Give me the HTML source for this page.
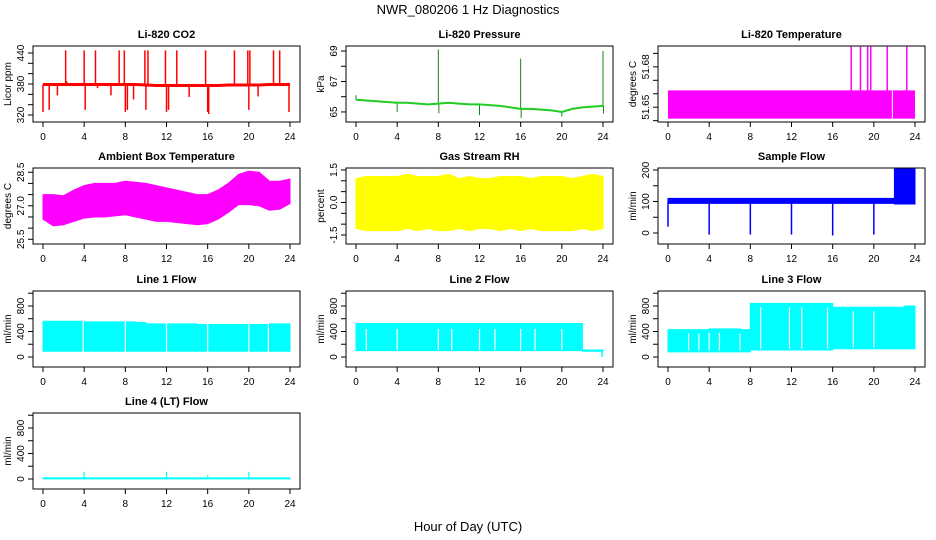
<!DOCTYPE html>
<html><head><meta charset="utf-8"><style>
body{margin:0;background:#fff;}
svg{display:block;font-family:"Liberation Sans",sans-serif;}
</style></head><body>
<svg id="c" width="936" height="540" viewBox="0 0 936 540">
<text x="468" y="14" text-anchor="middle" font-size="13">NWR_080206  1 Hz Diagnostics</text>
<text x="468" y="531" text-anchor="middle" font-size="13">Hour of Day (UTC)</text>
</svg>
<script>
const hours = [0,1,2,3,4,5,6,7,8,9,10,11,12,13,14,15,16,17,18,19,20,21,22,23,24];
const xTicks = [0,4,8,12,16,20,24];
// CO2
const co2Base = [379,379,379,379,379,379,379,379,379,379,378,377,377,377,377,377,377,377,378,378,378,378,379,379,379];
const co2SpikeHours = [0.0,0.6,1.4,2.2,2.3,4.0,4.1,5.1,5.3,6.6,7.4,7.9,8.0,8.2,8.8,9.9,10.0,10.2,11.9,12.0,12.2,13.0,14.2,15.8,16.0,16.1,18.6,19.9,20.0,20.1,20.9,22.4,23.0,23.9];
const co2SpikeVals  = [326,330,358,445,385,445,330,445,372,358,445,445,326,330,350,445,330,445,445,326,330,445,355,445,326,322,445,445,330,445,356,445,445,326];
// Pressure
const presBase = [65.8,65.75,65.7,65.65,65.6,65.6,65.55,65.5,65.55,65.6,65.55,65.5,65.5,65.45,65.4,65.3,65.2,65.2,65.15,65.1,65.0,65.2,65.3,65.35,65.4];
const presSpikeHours = [0.0,4.0,8.0,8.05,12.0,16.0,16.05,20.0,24.0,24.05];
const presSpikeVals  = [66.1,65.0,69.1,64.9,64.8,68.5,64.6,64.7,69.0,64.9];
// Li-820 Temperature
const tempLo = 51.6415, tempHi = 51.6625;
const tempSpikeHours = [17.8,18.7,19.4,19.7,21.3,23.2];
const tempSpikeVal = 51.695;
const tempGapHours = [21.8];
// Ambient box temperature
const ambHi = [27.5,27.5,27.45,27.7,27.9,28.0,28.0,28.0,28.1,28.05,28.0,27.9,27.8,27.7,27.6,27.5,27.5,27.7,28.0,28.4,28.55,28.5,28.1,28.1,28.2];
const ambLo = [26.4,26.1,26.15,26.3,26.45,26.5,26.5,26.55,26.6,26.5,26.4,26.3,26.3,26.25,26.2,26.15,26.2,26.4,26.7,27.05,27.05,27.0,26.8,26.85,27.1];
// Gas stream RH
const rhHi = [1.1,1.2,1.2,1.2,1.2,1.3,1.2,1.2,1.2,1.3,1.1,1.2,1.1,1.1,1.2,1.2,1.2,1.1,1.2,1.2,1.2,1.1,1.2,1.3,1.2];
const rhLo = [-1.2,-1.3,-1.3,-1.3,-1.3,-1.2,-1.3,-1.2,-1.3,-1.3,-1.2,-1.3,-1.2,-1.2,-1.3,-1.2,-1.3,-1.2,-1.3,-1.3,-1.3,-1.3,-1.2,-1.3,-1.2];
// Sample flow (step series, value held for each hour)
const sfHi = [110,110,110,110,110,110,110,110,110,110,110,110,110,110,110,110,110,110,110,110,110,110,210,210,210];
const sfLo = [94,94,94,94,94,94,94,94,94,94,94,94,94,94,94,94,94,94,94,94,94,94,92,92,92];
const sfDipHours = [0.0,4.0,8.0,12.0,16.0,20.0];
const sfDipVals = [20,-5,-5,-5,-8,-5];
// Line flows (step series)
const l1Hi = [560,560,560,560,550,550,550,550,550,540,520,520,520,520,520,510,510,510,510,510,510,510,520,520,520];
const l1Lo = [90,90,90,90,90,90,90,90,90,90,90,90,90,90,90,90,90,90,90,90,90,90,90,90,90];
const l1Gaps = [3.9,8.0,12.0,16.0,20.0,21.9];
const l2Hi = [525,525,525,525,525,525,525,525,525,525,525,525,525,525,525,525,525,525,525,525,525,525,110,110,110];
const l2Lo = [100,100,100,100,100,100,100,100,100,100,100,100,100,100,100,100,100,100,100,100,100,100,90,90,90];
const l2Gaps = [1.0,4.0,8.0,9.3,12.0,13.5,16.0,17.4,20.0];
const l3Hi = [430,430,430,430,440,440,440,430,840,840,840,840,840,840,840,840,780,780,780,780,780,780,780,800,800];
const l3Lo = [80,80,80,80,80,80,80,80,110,110,110,110,110,110,110,110,130,130,130,130,130,130,130,130,130];
const l3Gaps = [2.0,3.0,4.0,5.0,7.0,9.0,11.8,13.0,15.5,18.0,20.0];
const l4Hi = [18,18,18,18,18,18,18,18,18,18,18,18,18,18,18,18,18,18,18,18,18,18,18,18,18];
const l4Lo = [2,2,2,2,2,2,2,2,2,2,2,2,2,2,2,2,2,2,2,2,2,2,2,2,2];
const l4SpikeHours = [4.0,12.0,16.0,20.0];
const l4SpikeVals = [110,110,60,110];

const NS='http://www.w3.org/2000/svg';
const svg=document.getElementById('c');
function mk(tag,attrs,parent){const e=document.createElementNS(NS,tag);for(const k in attrs)e.setAttribute(k,attrs[k]);(parent||svg).appendChild(e);return e;}
const colL=[33,346,658], rowT=[46,168,291,413], W=267, H=76;
function panel(col,row,o){
  const g=mk('g',{});
  
  
  const L=colL[col], T=rowT[row];
  const X=h=>L+10+h*(247/24);
  const Y=v=>T+(o.ymax-v)/(o.ymax-o.ymin)*H;
  const cl='clip'+col+row;
  const cp=mk('clipPath',{id:cl},g); mk('rect',{x:L,y:T,width:W,height:H},cp);
  const d=mk('g',{'clip-path':'url(#'+cl+')'},g);
  
  
  o.draw(d,X,Y);
  const box=mk('rect',{x:L,y:T,width:W,height:H,fill:'none',stroke:'#000','stroke-width':1},g);
  
  
  const t=mk('text',{x:L+W/2,y:T-8,'text-anchor':'middle','font-size':11,'font-weight':'bold'},g);
  t.textContent=o.title;
  
  
  xTicks.forEach(h=>{
    mk('line',{x1:X(h),x2:X(h),y1:T+H,y2:T+H+5,stroke:'#000'},g);
    const tx=mk('text',{x:X(h),y:T+H+18,'text-anchor':'middle','font-size':10},g);tx.textContent=h;
    
    
  });
  o.yticks.forEach((v,i)=>{
    const y=Y(v);
    mk('line',{x1:L-5,x2:L,y1:y,y2:y,stroke:'#000'},g);
    if(o.ylabels[i]){const tx=mk('text',{x:L-9,y:y,'text-anchor':'middle','font-size':10,transform:'rotate(-90 '+(L-9)+' '+y+')'},g);tx.textContent=o.ylabels[i];
      
      }
  });
  const yl=mk('text',{x:L-22,y:T+H/2,'text-anchor':'middle','font-size':10,transform:'rotate(-90 '+(L-22)+' '+(T+H/2)+')'},g);
  yl.textContent=o.ylab;
  
  
}
function band(d,X,Y,hi,lo,color,step){
  let top=[],bot=[];
  if(step){
    for(let i=0;i<hours.length-1;i++){
      top.push(X(hours[i])+','+Y(hi[i]),X(hours[i+1])+','+Y(hi[i]));
      bot.push(X(hours[i])+','+Y(lo[i]),X(hours[i+1])+','+Y(lo[i]));
    }
  } else {
    top=hours.map((h,i)=>X(h)+','+Y(hi[i]));
    bot=hours.map((h,i)=>X(h)+','+Y(lo[i]));
  }
  const pts=top.concat(bot.reverse());
  const p=mk('polygon',{points:pts.join(' '),fill:color,stroke:color,'stroke-width':1},d);
  
  
}
function vlines(d,X,Y,hs,v1,v2,color,w){
  hs.forEach((h,i)=>{
    const a=Array.isArray(v1)?v1[i]:v1, b=Array.isArray(v2)?v2[i]:v2;
    const l=mk('line',{x1:X(h),x2:X(h),y1:Y(a),y2:Y(b),stroke:color,'stroke-width':w||1.5},d);
    
    
  });
}
function baseAt(arr,h){const i=Math.min(23,Math.floor(h));const f=h-i;return arr[i]*(1-f)+arr[i+1]*f;}
function stepAt(arr,h){return arr[Math.min(23,Math.floor(h))];}
function line(d,X,Y,arr,color,w){
  const p=mk('polyline',{points:hours.map((h,i)=>X(h)+','+Y(arr[i])).join(' '),fill:'none',stroke:color,'stroke-width':w},d);
  
  
}
const flowTicks=[0,200,400,600,800,1000], flowLabels=['0','','400','','800',''];
panel(0,0,{name:'co2-panel',title:'Li-820 CO2',ylab:'Licor ppm',ymin:306.5,ymax:453.5,yticks:[320,340,360,380,400,420,440],ylabels:['320','','','380','','','440'],
  draw:(d,X,Y)=>{vlines(d,X,Y,co2SpikeHours,co2SpikeHours.map(h=>baseAt(co2Base,h)),co2SpikeVals,'#ff0000',1.5);line(d,X,Y,co2Base,'#ff0000',3);}});
panel(1,0,{name:'pressure-panel',title:'Li-820 Pressure',ylab:'kPa',ymin:64.34,ymax:69.33,yticks:[65,66,67,68,69],ylabels:['65','','67','','69'],
  draw:(d,X,Y)=>{vlines(d,X,Y,presSpikeHours,presSpikeHours.map(h=>baseAt(presBase,h)),presSpikeVals,'#118811',1);line(d,X,Y,presBase,'#22cc22',2);}});
panel(2,0,{name:'li820-temperature-panel',title:'Li-820 Temperature',ylab:'degrees C',ymin:51.639,ymax:51.6955,yticks:[51.64,51.65,51.66,51.67,51.68,51.69],ylabels:['','51.65','','','51.68',''],
  draw:(d,X,Y)=>{const r=mk('rect',{x:X(0),y:Y(tempHi),width:X(24)-X(0),height:Y(tempLo)-Y(tempHi),fill:'#ff00ff'},d);
    
    vlines(d,X,Y,tempSpikeHours,tempHi,tempSpikeVal,'#ff00ff',1.5);vlines(d,X,Y,tempGapHours,tempLo,tempHi,'#ffffff',1);}});
panel(0,1,{name:'ambient-temperature-panel',title:'Ambient Box Temperature',ylab:'degrees C',ymin:25.29,ymax:28.69,yticks:[25.5,26,26.5,27,27.5,28,28.5],ylabels:['25.5','','','27.0','','','28.5'],
  draw:(d,X,Y)=>band(d,X,Y,ambHi,ambLo,'#ff00ff',false)});
panel(1,1,{name:'rh-panel',title:'Gas Stream RH',ylab:'percent',ymin:-1.915,ymax:1.59,yticks:[-1.5,-1,-0.5,0,0.5,1,1.5],ylabels:['-1.5','','','0.0','','','1.5'],
  draw:(d,X,Y)=>band(d,X,Y,rhHi,rhLo,'#ffff00',false)});
panel(2,1,{name:'sample-flow-panel',title:'Sample Flow',ylab:'ml/min',ymin:-34.9,ymax:206.3,yticks:[0,50,100,150,200],ylabels:['0','','100','','200'],
  draw:(d,X,Y)=>{band(d,X,Y,sfHi,sfLo,'#0000ff',true);vlines(d,X,Y,sfDipHours,100,sfDipVals,'#0000ff',1.5);}});
panel(0,2,{name:'line1-flow-panel',title:'Line 1 Flow',ylab:'ml/min',ymin:-157,ymax:1035,yticks:flowTicks,ylabels:flowLabels,
  draw:(d,X,Y)=>{band(d,X,Y,l1Hi,l1Lo,'#00ffff',true);vlines(d,X,Y,l1Gaps,80,570,'#ffffff',1.2);}});
panel(1,2,{name:'line2-flow-panel',title:'Line 2 Flow',ylab:'ml/min',ymin:-157,ymax:1035,yticks:flowTicks,ylabels:flowLabels,
  draw:(d,X,Y)=>{band(d,X,Y,l2Hi,l2Lo,'#00ffff',true);vlines(d,X,Y,l2Gaps,110,440,'#ffffff',1.2);vlines(d,X,Y,[23.9],90,0,'#00ffff',1.5);}});
panel(2,2,{name:'line3-flow-panel',title:'Line 3 Flow',ylab:'ml/min',ymin:-157,ymax:1035,yticks:flowTicks,ylabels:flowLabels,
  draw:(d,X,Y)=>{band(d,X,Y,l3Hi,l3Lo,'#00ffff',true);vlines(d,X,Y,l3Gaps,l3Gaps.map(h=>stepAt(l3Lo,h)+20),l3Gaps.map(h=>stepAt(l3Hi,h)-60),'#ffffff',1.2);}});
panel(0,3,{name:'line4-flow-panel',title:'Line 4 (LT) Flow',ylab:'ml/min',ymin:-157,ymax:1035,yticks:flowTicks,ylabels:flowLabels,
  draw:(d,X,Y)=>{band(d,X,Y,l4Hi,l4Lo,'#00ffff',true);vlines(d,X,Y,l4SpikeHours,10,l4SpikeVals,'#00ffff',1.2);}});
</script>
</body></html>
